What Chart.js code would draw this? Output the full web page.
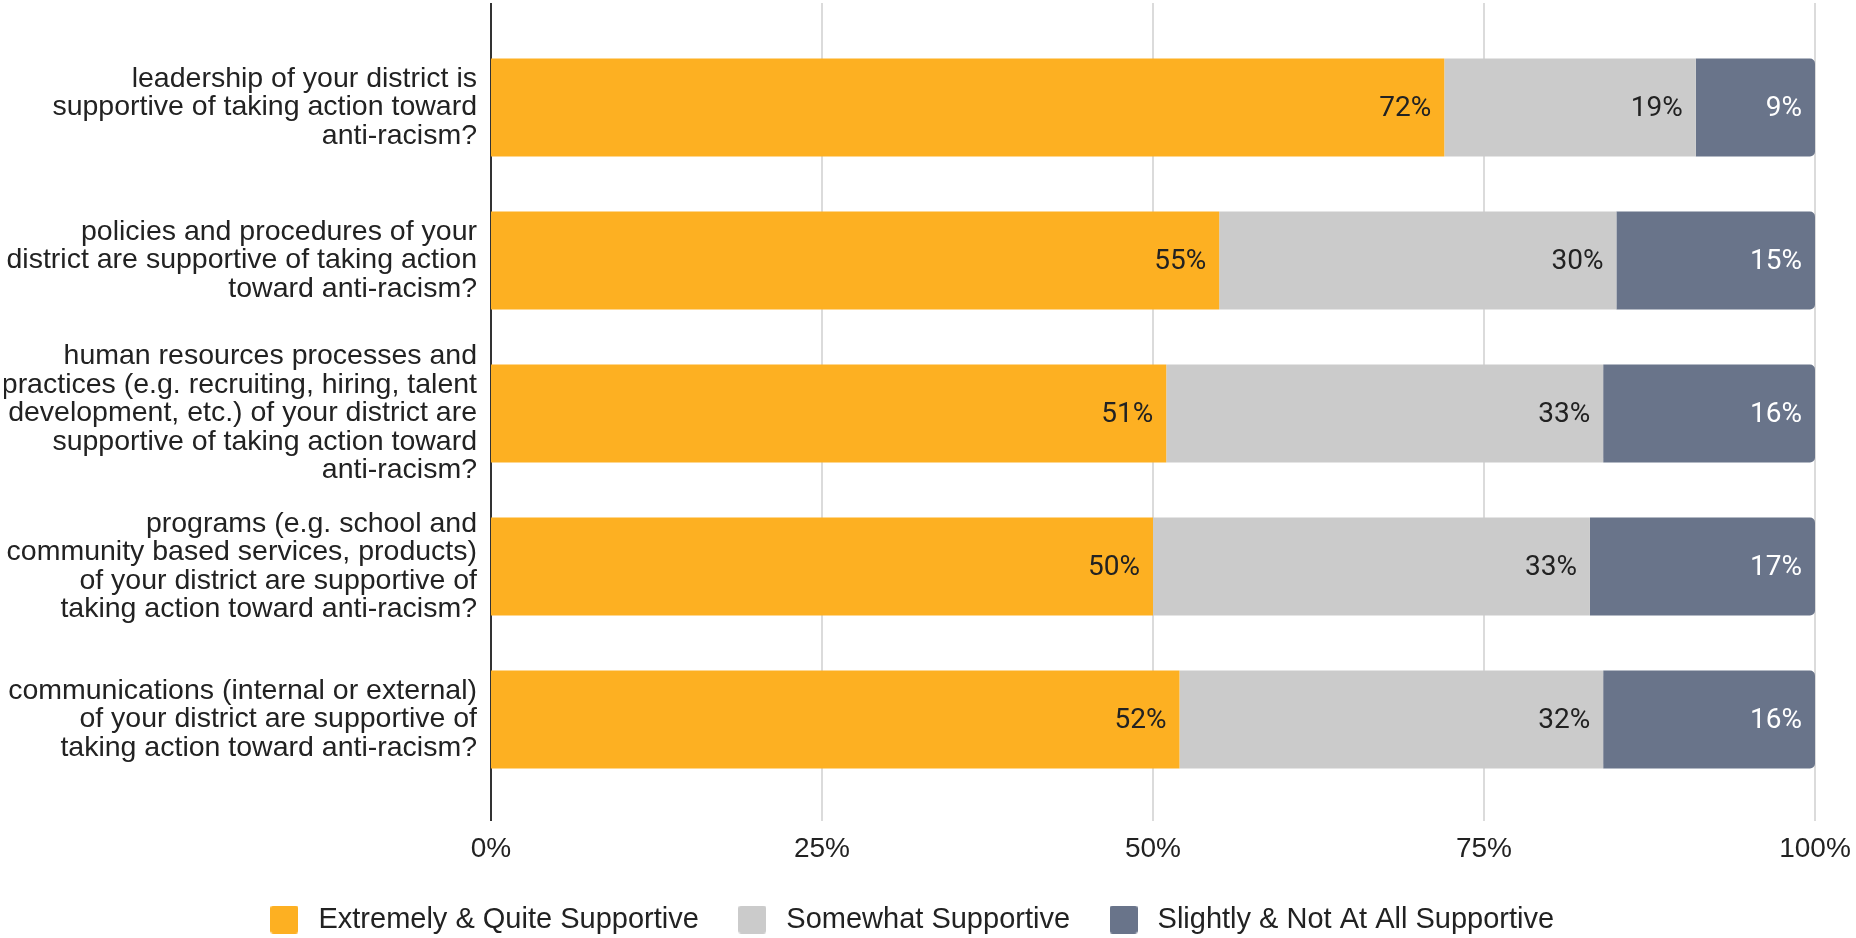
<!DOCTYPE html>
<html>
<head>
<meta charset="utf-8">
<script src="https://cdn.jsdelivr.net/npm/chart.js@4.4.1/dist/chart.umd.min.js"></script>
<style>
  html, body { margin: 0; padding: 0; background: #ffffff; }
  #wrap { position: relative; width: 1856px; height: 938px; }
</style>
</head>
<body>
<div id="wrap"><canvas id="chart"></canvas></div>
<script>
// Survey questions (one per bar), wrapped onto several lines
const categories = [
  ["leadership of your district is", "supportive of taking action toward", "anti-racism?"],
  ["policies and procedures of your", "district are supportive of taking action", "toward anti-racism?"],
  ["human resources processes and", "practices (e.g. recruiting, hiring, talent", "development, etc.) of your district are", "supportive of taking action toward", "anti-racism?"],
  ["programs (e.g. school and", "community based services, products)", "of your district are supportive of", "taking action toward anti-racism?"],
  ["communications (internal or external)", "of your district are supportive of", "taking action toward anti-racism?"]
];

const seriesNames = ["Extremely & Quite Supportive", "Somewhat Supportive", "Slightly & Not At All Supportive"];

// Share of responses, in percent
const extremelyQuite = [72, 55, 51, 50, 52];
const somewhat = [19, 30, 33, 33, 32];
const slightlyNot = [9, 15, 16, 17, 16];

const tickValues = [0, 25, 50, 75, 100];

const COLORS = ["#FDB022", "#CBCBCB", "#69748A"];
const LABEL_COLORS = ["#222222", "#222222", "#ffffff"];
const TEXT = "#222222";
const SANS = "'Liberation Sans', Arial, sans-serif";
const PAD_LEFT = 4;
const PLOT_LEFT = 491;

// Square legend swatch drawn on a small canvas and used as a point style
function swatch(color) {
  const c = document.createElement("canvas");
  c.width = 28; c.height = 28;
  const g = c.getContext("2d");
  g.fillStyle = color;
  g.beginPath();
  g.roundRect(0, 0, 28, 28, 3);
  g.fill();
  return c;
}

// Vertical grid lines, running a little above and below the plot area
const gridPlugin = {
  id: "gridLines",
  beforeDatasetsDraw(chart) {
    const {ctx, chartArea, scales: {x}} = chart;
    ctx.save();
    x.ticks.forEach(t => {
      const px = Math.round(x.getPixelForValue(t.value));
      const zero = t.value === 0;
      ctx.strokeStyle = zero ? "#333333" : "#cfcfcf";
      ctx.lineWidth = zero ? 2 : 1.5;
      ctx.beginPath();
      ctx.moveTo(px, chartArea.top - 28);
      ctx.lineTo(px, chartArea.bottom + 25);
      ctx.stroke();
    });
    ctx.restore();
  }
};

// Percent labels placed at the right end of each segment
const valueLabelPlugin = {
  id: "valueLabels",
  afterDatasetsDraw(chart) {
    const {ctx} = chart;
    ctx.save();
    ctx.font = "28px Roboto, 'Noto Sans', sans-serif";
    ctx.textAlign = "right";
    ctx.textBaseline = "middle";
    chart.data.datasets.forEach((ds, di) => {
      const meta = chart.getDatasetMeta(di);
      meta.data.forEach((bar, i) => {
        ctx.fillStyle = LABEL_COLORS[di];
        ctx.fillText(ds.data[i] + "%", bar.x - 13, bar.y + 1);
      });
    });
    ctx.restore();
  }
};

const datasets = [extremelyQuite, somewhat, slightlyNot].map((values, i) => ({
  label: seriesNames[i],
  data: values,
  backgroundColor: COLORS[i],
  borderWidth: 0,
  borderRadius: i === 2 ? {topLeft: 0, bottomLeft: 0, topRight: 5, bottomRight: 5} : 0,
  borderSkipped: false,
  barPercentage: 0.64,
  categoryPercentage: 1
}));

new Chart(document.getElementById("chart"), {
  type: "bar",
  data: { labels: categories, datasets },
  options: {
    indexAxis: "y",
    responsive: true,
    maintainAspectRatio: false,
    animation: false,
    layout: { padding: { top: 31, left: PAD_LEFT, right: 41, bottom: -6 } },
    scales: {
      x: {
        stacked: true,
        min: 0,
        max: 100,
        afterBuildTicks(scale) { scale.ticks = tickValues.map(v => ({ value: v })); },
        afterFit(scale) {
          scale.height = 75;
          scale.paddingLeft = 0;
          scale.paddingRight = 0;
        },
        grid: { display: false, drawTicks: false },
        border: { display: false },
        ticks: {
          padding: 36,
          color: TEXT,
          font: { family: SANS, size: 28 },
          callback: v => v + "%"
        }
      },
      y: {
        stacked: true,
        grid: { display: false, drawTicks: false },
        border: { display: false },
        afterFit(scale) {
          scale.width = PLOT_LEFT - PAD_LEFT;
          scale.paddingTop = 0;
          scale.paddingBottom = 0;
        },
        ticks: {
          autoSkip: false,
          padding: 14,
          color: TEXT,
          font: { family: SANS, size: 28.5, lineHeight: "28.5px" }
        }
      }
    },
    plugins: {
      tooltip: { enabled: false },
      legend: {
        position: "bottom",
        labels: {
          color: TEXT,
          font: { family: SANS, size: 29 },
          usePointStyle: true,
          pointStyleWidth: 39,
          boxHeight: 29,
          padding: 34,
          generateLabels(chart) {
            const items = Chart.defaults.plugins.legend.labels.generateLabels(chart);
            items.forEach(it => { it.pointStyle = swatch(it.fillStyle); });
            return items;
          }
        }
      }
    }
  },
  plugins: [gridPlugin, valueLabelPlugin]
});
</script>
</body>
</html>
